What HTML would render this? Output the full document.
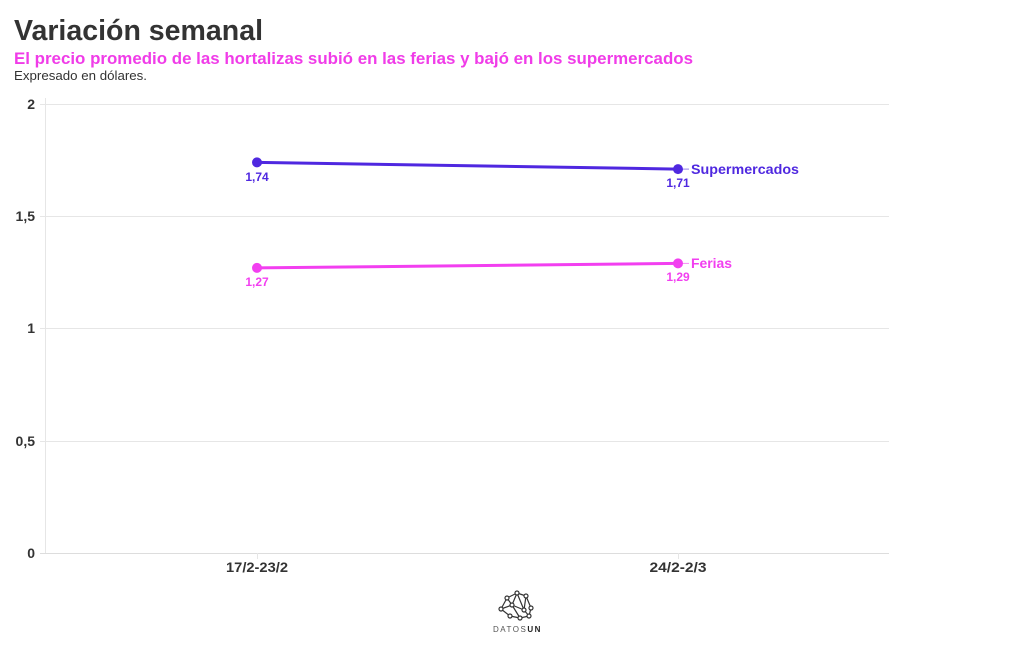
<!DOCTYPE html>
<html><head><meta charset="utf-8"><style>
html,body{margin:0;padding:0;background:#fff;}
svg{display:block;font-family:"Liberation Sans",sans-serif;}
</style></head><body>
<svg width="1020" height="650" viewBox="0 0 1020 650" xmlns="http://www.w3.org/2000/svg">
<text x="14" y="40" font-size="29" font-weight="bold" fill="#333" textLength="249" lengthAdjust="spacingAndGlyphs">Variación semanal</text>
<text x="14" y="64" font-size="17" font-weight="bold" fill="#f03ce8" textLength="679" lengthAdjust="spacingAndGlyphs">El precio promedio de las hortalizas subió en las ferias y bajó en los supermercados</text>
<text x="14" y="80" font-size="13" fill="#333" textLength="133" lengthAdjust="spacingAndGlyphs">Expresado en dólares.</text>
<g stroke="#e6e6e6" stroke-width="1">
<line x1="40" y1="104.5" x2="889" y2="104.5"/>
<line x1="40" y1="216.5" x2="889" y2="216.5"/>
<line x1="40" y1="328.5" x2="889" y2="328.5"/>
<line x1="40" y1="441.5" x2="889" y2="441.5"/>
<line x1="40" y1="553.5" x2="889" y2="553.5" stroke="#ddd"/>
<line x1="45.5" y1="98" x2="45.5" y2="553"/>
<line x1="257.5" y1="553" x2="257.5" y2="559"/>
<line x1="678.5" y1="553" x2="678.5" y2="559"/>
</g>
<g font-size="14" font-weight="bold" fill="#333" text-anchor="end">
<text x="35" y="109">2</text>
<text x="35" y="221">1,5</text>
<text x="35" y="333">1</text>
<text x="35" y="446">0,5</text>
<text x="35" y="558">0</text>
</g>
<g font-size="14" font-weight="bold" fill="#333" text-anchor="middle">
<text x="257" y="572" textLength="62" lengthAdjust="spacingAndGlyphs">17/2-23/2</text>
<text x="678" y="572" textLength="57" lengthAdjust="spacingAndGlyphs">24/2-2/3</text>
</g>
<line x1="257" y1="162.4" x2="678" y2="169.1" stroke="#4f28e0" stroke-width="3"/>
<line x1="678" y1="169.1" x2="689" y2="169.1" stroke="#4f28e0" stroke-width="1" opacity="0.6"/>
<circle cx="257" cy="162.4" r="5" fill="#4f28e0"/>
<circle cx="678" cy="169.1" r="5" fill="#4f28e0"/>
<line x1="257" y1="267.9" x2="678" y2="263.4" stroke="#f23ff0" stroke-width="3"/>
<line x1="678" y1="263.4" x2="689" y2="263.4" stroke="#f23ff0" stroke-width="1" opacity="0.6"/>
<circle cx="257" cy="267.9" r="5" fill="#f23ff0"/>
<circle cx="678" cy="263.4" r="5" fill="#f23ff0"/>
<g font-size="12" font-weight="bold" text-anchor="middle">
<text x="257" y="181" fill="#4f28e0">1,74</text>
<text x="678" y="187" fill="#4f28e0">1,71</text>
<text x="257" y="286" fill="#f23ff0">1,27</text>
<text x="678" y="281" fill="#f23ff0">1,29</text>
</g>
<text x="691" y="174" font-size="14" font-weight="bold" fill="#4f28e0" textLength="108" lengthAdjust="spacingAndGlyphs">Supermercados</text>
<text x="691" y="268" font-size="14" font-weight="bold" fill="#f23ff0" textLength="41" lengthAdjust="spacingAndGlyphs">Ferias</text>
<g stroke="#333" stroke-width="1.2" fill="#fff">
<line x1="501" y1="609" x2="507" y2="598"/>
<line x1="507" y1="598" x2="517" y2="593"/>
<line x1="517" y1="593" x2="526" y2="596"/>
<line x1="526" y1="596" x2="531" y2="608"/>
<line x1="531" y1="608" x2="529" y2="616"/>
<line x1="529" y1="616" x2="520" y2="618"/>
<line x1="520" y1="618" x2="510" y2="616"/>
<line x1="510" y1="616" x2="501" y2="609"/>
<line x1="507" y1="598" x2="512" y2="605"/>
<line x1="512" y1="605" x2="517" y2="593"/>
<line x1="512" y1="605" x2="520" y2="618"/>
<line x1="512" y1="605" x2="524" y2="610"/>
<line x1="524" y1="610" x2="526" y2="596"/>
<line x1="524" y1="610" x2="529" y2="616"/>
<line x1="501" y1="609" x2="512" y2="605"/>
<line x1="517" y1="593" x2="524" y2="610"/>
<circle cx="501" cy="609" r="2"/>
<circle cx="507" cy="598" r="2"/>
<circle cx="517" cy="593" r="2"/>
<circle cx="526" cy="596" r="2"/>
<circle cx="531" cy="608" r="2"/>
<circle cx="529" cy="616" r="2"/>
<circle cx="520" cy="618" r="2"/>
<circle cx="510" cy="616" r="2"/>
<circle cx="512" cy="605" r="2"/>
<circle cx="524" cy="610" r="2"/>
</g>
<text x="493" y="632" font-size="8" fill="#555" letter-spacing="1.5">DATOS<tspan font-weight="bold" fill="#222">UN</tspan></text>
</svg>
</body></html>
